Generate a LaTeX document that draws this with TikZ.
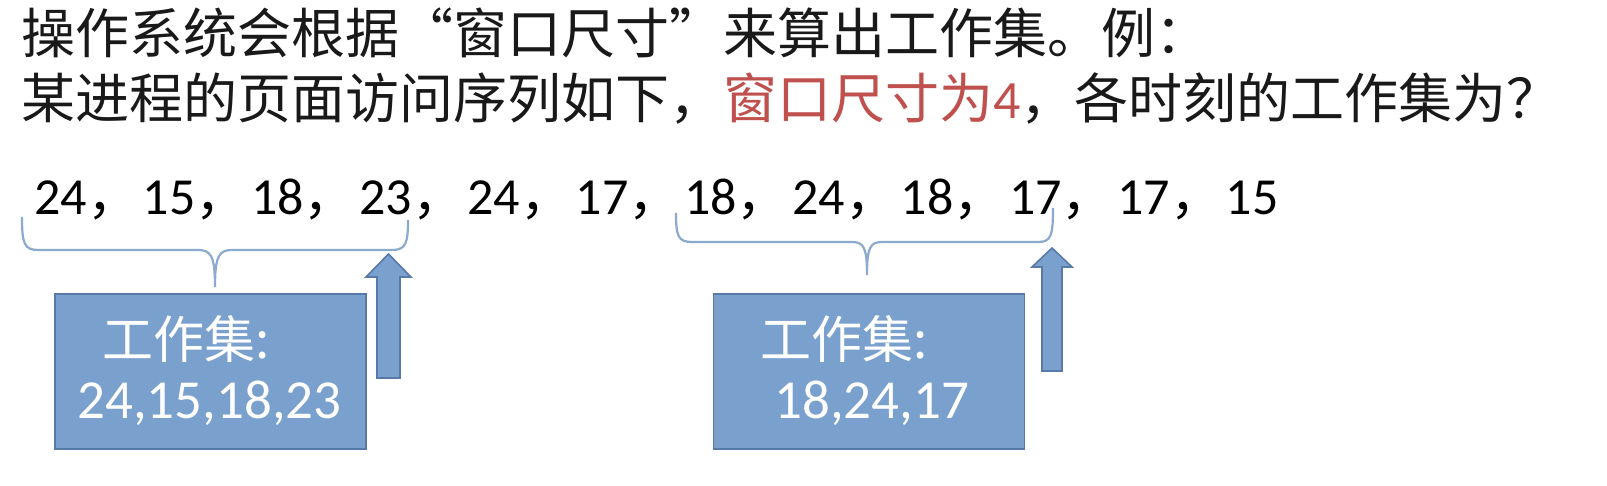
\documentclass[tikz,border=0pt]{standalone}
\usepackage{fontspec}
\setmainfont{Noto Sans CJK SC}
\newfontfamily\digitfont{Carlito}
\definecolor{boxfill}{RGB}{122,160,205}
\definecolor{boxline}{RGB}{88,122,168}
\definecolor{bracecol}{RGB}{140,170,205}
\definecolor{hilite}{RGB}{192,80,77}
\definecolor{txt}{RGB}{25,25,25}
\begin{document}
\begin{tikzpicture}[x=0.5pt,y=-0.5pt,
  title/.style={anchor=base west, inner sep=0pt, text=txt, font=\fontsize{27pt}{27pt}\selectfont},
  seqnum/.style={anchor=base west, inner sep=0pt, text=black, font=\fontsize{26pt}{26pt}\selectfont},
  wsbox/.style={draw=boxline, line width=0.8pt, fill=boxfill, inner sep=0pt, minimum width=155.5pt, minimum height=77.5pt},
  boxcjk/.style={anchor=base west, inner sep=0pt, text=white, font=\fontsize{25.5pt}{25.5pt}\selectfont},
  boxnum/.style={anchor=base west, inner sep=0pt, text=white, font=\digitfont\fontsize{27.5pt}{27.5pt}\selectfont},
  brace/.style={draw=bracecol, line width=1.1pt},
  blockarrow/.style={draw=boxline, line width=0.8pt, fill=boxfill}]
\fill[white] (0,0) rectangle (1607,486);
\useasboundingbox (0,0) rectangle (1607,486);
% title lines
\node[title] (l1) at (21,54) {操作系统会根据“窗口尺寸”来算出工作集。例：};
\node[title] (l2) at (21,119) {某进程的页面访问序列如下，\textcolor{hilite}{窗口尺寸为{\digitfont 4}}，各时刻的工作集为？};
% page access sequence
\foreach \v [count=\i] in {24,15,18,23,24,17,18,24,18,17,17,15}
  \node[seqnum] (n\i) at ({34+108.3*(\i-1)},215) {{\digitfont\v}\ifnum\i<12 ，\fi};
% braces
\draw[brace] (22,217) .. controls (22,243) and (24,250) .. (38,250) -- (198,250)
  .. controls (211,250) and (215,256) .. (215,287)
  .. controls (215,256) and (219,250) .. (232,250) -- (392,250)
  .. controls (406,250) and (408,243) .. (408,220);
\draw[brace] (676,213) .. controls (676,236) and (678,242) .. (692,242) -- (852,242)
  .. controls (864,242) and (867,248) .. (867,275)
  .. controls (867,248) and (870,242) .. (882,242) -- (1038,242)
  .. controls (1051,242) and (1053,236) .. (1053,208);
% working-set boxes
\node[wsbox] (ws1) at (210.5,371.5) {};
\node[boxcjk] (ws1a) at (102,358) {工作集:};
\node[boxnum] (ws1b) at (77,418) {24,15,18,23};
\node[wsbox] (ws2) at (869,371.5) {};
\node[boxcjk] (ws2a) at (760,358) {工作集:};
\node[boxnum] (ws2b) at (774,418) {18,24,17};
% block arrows
\filldraw[blockarrow] (377,378) -- (377,277) -- (366,277) -- (388.5,254) -- (411,277) -- (400,277) -- (400,378) -- cycle;
\filldraw[blockarrow] (1042,371) -- (1042,267) -- (1032,267) -- (1052,248) -- (1072,267) -- (1062,267) -- (1062,371) -- cycle;
\end{tikzpicture}
\end{document}
